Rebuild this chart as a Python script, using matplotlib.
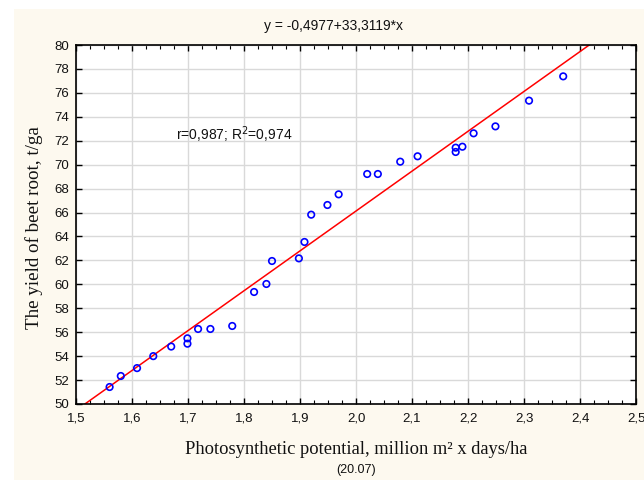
import matplotlib
matplotlib.use("Agg")
import matplotlib.pyplot as plt
import numpy as np
from matplotlib.ticker import MultipleLocator, FuncFormatter
from matplotlib.patches import Rectangle

x_vals = [1.560, 1.580, 1.609, 1.638, 1.670, 1.699, 1.699, 1.718, 1.740, 1.779,
          1.818, 1.840, 1.850, 1.898, 1.908, 1.920, 1.949, 1.969, 2.020, 2.039,
          2.079, 2.110, 2.178, 2.178, 2.190, 2.210, 2.249, 2.309, 2.370]
y_vals = [51.42, 52.34, 53.0, 54.0, 54.8, 55.04, 55.49, 56.27, 56.27, 56.52,
          59.36, 60.03, 61.95, 62.17, 63.54, 65.82, 66.63, 67.52, 69.22, 69.22,
          70.25, 70.70, 71.06, 71.42, 71.50, 72.62, 73.20, 75.35, 77.38]
intercept = -0.4977
slope = 33.3119
title_text = "y = -0,4977+33,3119*x"
stat_text = "r=0,987; R$^2$=0,974"
x_label = "Photosynthetic potential, million m² x days/ha"
y_label = "The yield of beet root, t/ga"
sub_text = "(20.07)"

W, H = 644, 480
fig = plt.figure(figsize=(W/100, H/100), dpi=100)
fig.patch.set_facecolor("white")
fig.patches.append(Rectangle((14/W, 0), 1 - 14/W, 1 - 9/H, transform=fig.transFigure,
                             facecolor="#fdf9ef", edgecolor="none", zorder=-10))

ax = fig.add_axes([76/W, 1 - 404/H, (636-76)/W, (404-45)/H])
ax.set_facecolor("white")
ax.set_xlim(1.5, 2.5)
ax.set_ylim(50, 80)

ax.xaxis.set_major_locator(MultipleLocator(0.1))
ax.xaxis.set_minor_locator(MultipleLocator(0.025))
ax.yaxis.set_major_locator(MultipleLocator(2))
ax.xaxis.set_major_formatter(FuncFormatter(lambda v, p: f"{v:.1f}".replace(".", ",")))
ax.yaxis.set_major_formatter(FuncFormatter(lambda v, p: f"{v:.0f}"))

ax.grid(True, which="major", color="#d9d9d9", linewidth=1.0)
ax.set_axisbelow(True)
ax.tick_params(which="both", direction="in", top=True, right=True, color="black",
               labelsize=9.5, labelcolor="#111111")
ax.tick_params(which="major", length=4, width=1)
ax.tick_params(which="minor", length=3, width=0.8)
for lbl in ax.get_xticklabels() + ax.get_yticklabels():
    lbl.set_fontfamily("Liberation Sans")
ax.tick_params(axis="x", pad=6)
ax.tick_params(axis="y", pad=5)
for s in ax.spines.values():
    s.set_color("black")
    s.set_linewidth(1.2)

xl = np.array([1.5, 2.5])
ax.plot(xl, intercept + slope * xl, color="red", linewidth=1.1, zorder=2)
ax.scatter(x_vals, y_vals, s=22, facecolors="none", edgecolors="blue", linewidths=1.2, zorder=3)

ax.text(1.6786, 72.48, stat_text, fontsize=10, family="Liberation Sans", va="center", ha="left",
        color="#111111")

fig.text(334/W, 1 - 26/H, title_text, fontsize=10, family="Liberation Sans", ha="center",
         va="center", color="#111111")
fig.text(356/W, 1 - 449/H, x_label, fontsize=13.3, family="Liberation Serif", ha="center",
         va="center", color="#111111")
fig.text(356/W, 1 - 470/H, sub_text, fontsize=9, family="Liberation Sans", ha="center",
         va="center", color="#111111")
fig.text(34/W, 1 - 228/H, y_label, fontsize=13.7, family="Liberation Serif", ha="center",
         va="center", rotation=90, color="#111111")

fig.savefig("out.png", dpi=100, facecolor=fig.get_facecolor())
